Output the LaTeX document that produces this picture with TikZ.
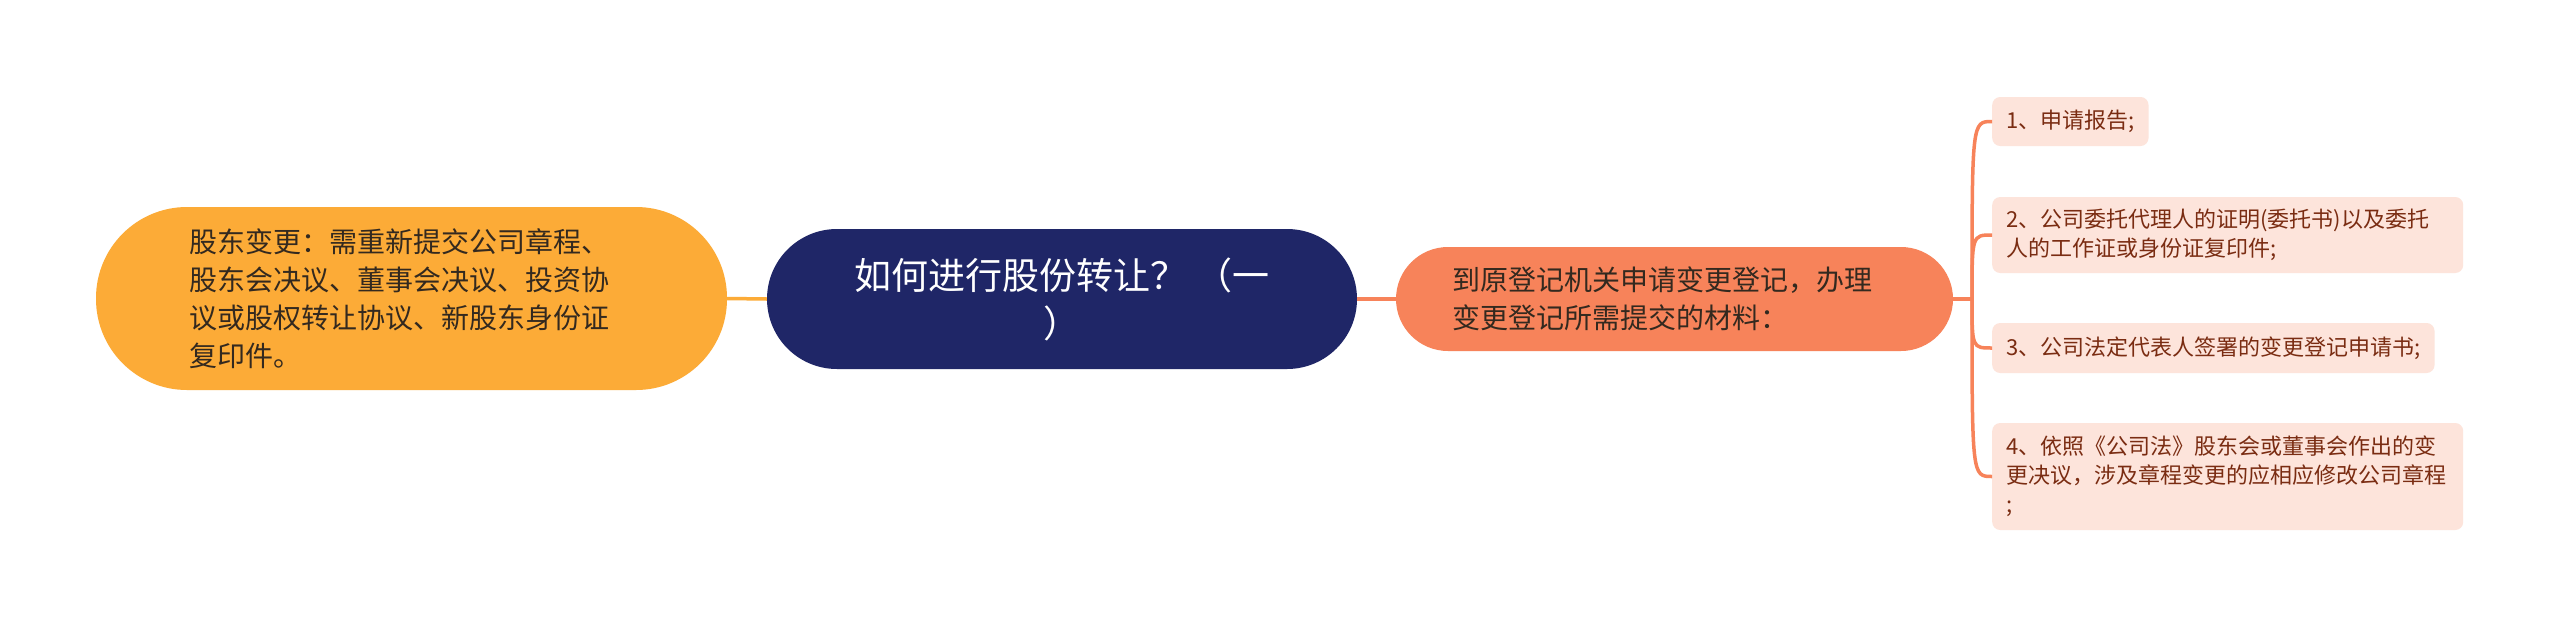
\documentclass[tikz,border=0pt]{standalone}
\usepackage{fontspec}
\setmainfont{Noto Sans CJK SC}
\definecolor{navy}{HTML}{1F2667}
\definecolor{amber}{HTML}{FCAB37}
\definecolor{salmon}{HTML}{F7835A}
\definecolor{leaffill}{HTML}{FDE4DB}
\definecolor{leaftext}{HTML}{7A2C12}
\definecolor{darktext}{HTML}{33291F}
\begin{document}
\begin{tikzpicture}[x=1pt,y=-1pt,
  pill/.style={rectangle, inner sep=0pt, align=left},
  centerbox/.style={pill, fill=navy, text=white, minimum width=590pt, minimum height=140pt, rounded corners=70pt, align=center, font=\fontsize{37}{48}\selectfont},
  leftbox/.style={pill, fill=amber, text=darktext, minimum width=631pt, minimum height=183pt, rounded corners=91pt, text width=445pt, font=\fontsize{28}{38}\selectfont},
  midbox/.style={pill, fill=salmon, text=darktext, minimum width=557pt, minimum height=104pt, rounded corners=52pt, text width=445pt, font=\fontsize{28}{38}\selectfont},
  leafbox/.style={rectangle, anchor=west, fill=leaffill, text=leaftext, rounded corners=8pt, inner xsep=14pt, inner ysep=0pt, align=left, font=\fontsize{22}{29}\selectfont},
  lconn/.style={draw=amber, line width=3.5pt},
  rconn/.style={draw=salmon, line width=3.5pt}
]
\path[use as bounding box, fill=white] (0,0) rectangle (2560,627);

\node[centerbox] (c) at (1062,299) {如何进行股份转让？ （一\\）};
\node[leftbox] (l) at (411.5,298.5) {股东变更：需重新提交公司章程、\\股东会决议、董事会决议、投资协\\议或股权转让协议、新股东身份证\\复印件。};
\node[midbox] (m) at (1674.5,299) {到原登记机关申请变更登记，办理\\变更登记所需提交的材料：};

\node[leafbox, minimum height=49pt] (a1) at (1992,121.5) {1、申请报告;};
\node[leafbox, minimum height=76pt, text width=443pt] (a2) at (1992,235) {2、公司委托代理人的证明(委托书)以及委托\\人的工作证或身份证复印件;};
\node[leafbox, minimum height=50pt] (a3) at (1992,348) {3、公司法定代表人签署的变更登记申请书;};
\node[leafbox, minimum height=107pt, text width=443pt] (a4) at (1992,476.5) {4、依照《公司法》股东会或董事会作出的变\\更决议，涉及章程变更的应相应修改公司章程\\;};

\coordinate (sp) at (1972,299);
\draw[lconn] (l.east) -- (c.west);
\draw[rconn] (c.east) -- (m.west);
\draw[rconn] (m.east) -- (sp);
\foreach \n in {a1,a2,a3,a4}{
  \draw[rconn] (sp) .. controls (sp |- \n.west) and (sp |- \n.west) .. (\n.west);
}
\end{tikzpicture}
\end{document}
